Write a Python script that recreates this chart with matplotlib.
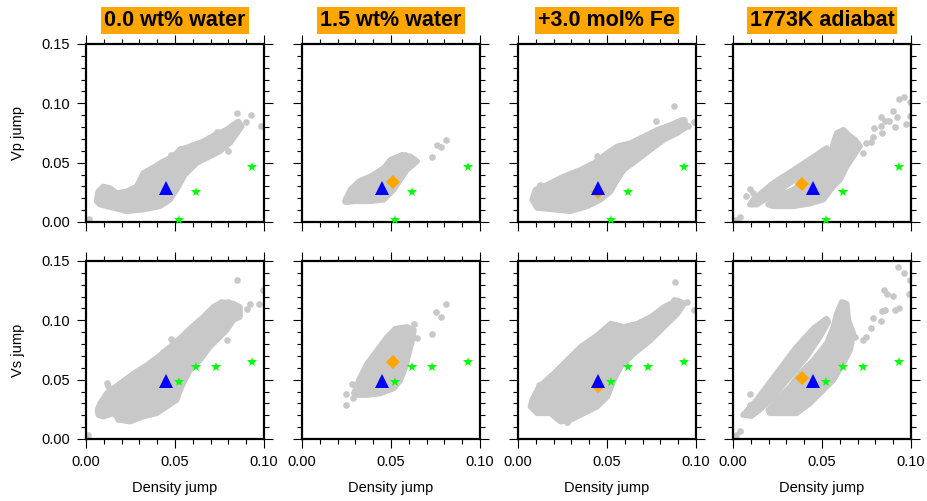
import numpy as np
import matplotlib
matplotlib.use('Agg')
import matplotlib.pyplot as plt
from matplotlib.ticker import MultipleLocator, FormatStrFormatter

plt.rcParams['font.family'] = ['Liberation Sans', 'DejaVu Sans']

# %% data
titles = ['0.0 wt% water', '1.5 wt% water', '+3.0 mol% Fe', '1773K adiabat']

# observed (green stars), density jump vs Vp jump / Vs jump
star_vp_x = [0.052, 0.062, 0.093]
star_vp_y = [0.002, 0.025, 0.046]
star_vs_x = [0.052, 0.062, 0.073, 0.093]
star_vs_y = [0.048, 0.061, 0.061, 0.065]

# reference model (blue triangle), same in every panel
tri_x = 0.045
tri_vp = 0.029
tri_vs = 0.049

# perturbed model (orange diamond), none in first column
dia_x = [None, 0.051, 0.045, 0.0385]
dia_vp = [None, 0.034, 0.025, 0.032]
dia_vs = [None, 0.065, 0.045, 0.051]

# gray clouds: outlines of the dense parts, plus stray points
cloud_vp_0 = [(0.006, 0.0188), (0.0069, 0.0258), (0.0097, 0.030), (0.0135, 0.0287),
              (0.0172, 0.0244), (0.0228, 0.0258), (0.0285, 0.030), (0.0322, 0.0413),
              (0.0388, 0.0469), (0.0434, 0.0511), (0.049, 0.0553), (0.0528, 0.061),
              (0.0584, 0.0638), (0.0659, 0.068), (0.0725, 0.0736), (0.079, 0.0778),
              (0.0828, 0.082), (0.0856, 0.0848), (0.0875, 0.0806), (0.085, 0.075),
              (0.0809, 0.0666), (0.0753, 0.0596), (0.0697, 0.0553), (0.0622, 0.0497),
              (0.0556, 0.0399), (0.0509, 0.0272), (0.0472, 0.0188), (0.0416, 0.0132),
              (0.0322, 0.0104), (0.0228, 0.009), (0.0154, 0.0118), (0.0079, 0.0146),
              (0.006, 0.0174)]
dots_vp_0 = [(0.085, 0.0918), (0.0925, 0.0899), (0.0899, 0.0843), (0.0983, 0.0806),
             (0.0019, 0.0025), (0.0528, 0.0615), (0.0478, 0.0562), (0.0429, 0.0503),
             (0.0734, 0.0756), (0.080, 0.0596)]
cloud_vs_0 = [(0.0064, 0.0244), (0.0079, 0.030), (0.0116, 0.0384), (0.0191, 0.0468),
              (0.0266, 0.0552), (0.0341, 0.0622), (0.0416, 0.0706), (0.0472, 0.0777),
              (0.0537, 0.0861), (0.0594, 0.0945), (0.0659, 0.1029), (0.0715, 0.1113),
              (0.0762, 0.1155), (0.0828, 0.1141), (0.0865, 0.1113), (0.0865, 0.1029),
              (0.0828, 0.1001), (0.079, 0.0917), (0.0753, 0.0861), (0.0697, 0.0777),
              (0.064, 0.0664), (0.0584, 0.058), (0.0537, 0.044), (0.0509, 0.0328),
              (0.0453, 0.0272), (0.0397, 0.0216), (0.0322, 0.0188), (0.0247, 0.0146),
              (0.0191, 0.016), (0.0154, 0.0216), (0.0097, 0.0188), (0.0069, 0.0202)]
dots_vs_0 = [(0.085, 0.1343), (0.0996, 0.1253), (0.0116, 0.0468), (0.0125, 0.045),
             (0.0478, 0.0841), (0.0431, 0.0734), (0.080, 0.1155), (0.0921, 0.1141),
             (0.0906, 0.1094), (0.0974, 0.1141), (0.079, 0.0833), (0.0013, 0.0034),
             (0.0182, 0.0168)]

cloud_vp_1 = [(0.0244, 0.0188), (0.0272, 0.0272), (0.0319, 0.0343), (0.0385, 0.0385),
              (0.046, 0.0455), (0.0497, 0.0525), (0.0563, 0.0567), (0.061, 0.0553),
              (0.0647, 0.0511), (0.0591, 0.0441), (0.0553, 0.0357), (0.0516, 0.0272),
              (0.046, 0.0188), (0.0385, 0.0174), (0.0291, 0.0174), (0.0253, 0.0166)]
dots_vp_1 = [(0.0281, 0.0287), (0.0732, 0.0548), (0.0756, 0.0649), (0.0782, 0.0629),
             (0.081, 0.0691), (0.0578, 0.0567), (0.0244, 0.0174)]
cloud_vs_1 = [(0.0291, 0.0384), (0.0319, 0.0496), (0.0366, 0.0636), (0.0422, 0.0748),
              (0.0478, 0.086), (0.0525, 0.0931), (0.0591, 0.0945), (0.0629, 0.0917),
              (0.062, 0.0833), (0.060, 0.072), (0.0582, 0.0608), (0.0553, 0.0496),
              (0.0516, 0.0426), (0.0441, 0.0384), (0.0366, 0.037), (0.030, 0.037)]
dots_vs_1 = [(0.028, 0.0463), (0.025, 0.0378), (0.0248, 0.0283), (0.0287, 0.0348),
             (0.0629, 0.0967), (0.0647, 0.0855), (0.0728, 0.0886), (0.0754, 0.1071),
             (0.0782, 0.1032), (0.081, 0.1135), (0.0432, 0.0748)]

cloud_vp_2 = [(0.0079, 0.0188), (0.0098, 0.0272), (0.0164, 0.0315), (0.0258, 0.0385),
              (0.0352, 0.0441), (0.0427, 0.0497), (0.0502, 0.0581), (0.0558, 0.0638),
              (0.0633, 0.0666), (0.0709, 0.0722), (0.0784, 0.0778), (0.0859, 0.082),
              (0.0925, 0.0862), (0.0953, 0.0806), (0.0897, 0.075), (0.0821, 0.0694),
              (0.0746, 0.061), (0.0671, 0.0525), (0.0596, 0.0441), (0.0558, 0.0357),
              (0.0521, 0.0258), (0.0464, 0.0188), (0.0389, 0.0132), (0.0295, 0.009),
              (0.0201, 0.0104), (0.0107, 0.0118)]
dots_vp_2 = [(0.0878, 0.0975), (0.0934, 0.0862), (0.0991, 0.0843), (0.0778, 0.0848),
             (0.0953, 0.0812), (0.0126, 0.0315), (0.0445, 0.0553), (0.0596, 0.0646)]
cloud_vs_2 = [(0.0079, 0.0328), (0.0117, 0.044), (0.0201, 0.0552), (0.0276, 0.0664),
              (0.0352, 0.0777), (0.0445, 0.0875), (0.0521, 0.0973), (0.0596, 0.0945),
              (0.0671, 0.0973), (0.0746, 0.1029), (0.0821, 0.1113), (0.0897, 0.1169),
              (0.0934, 0.1141), (0.0897, 0.1057), (0.0821, 0.0945), (0.0746, 0.0833),
              (0.0652, 0.072), (0.0577, 0.0608), (0.0539, 0.0496), (0.0502, 0.0356),
              (0.0445, 0.0272), (0.037, 0.0216), (0.0295, 0.016), (0.0239, 0.0146),
              (0.0182, 0.0216), (0.0107, 0.0216), (0.007, 0.0272)]
dots_vs_2 = [(0.0883, 0.1323), (0.0878, 0.1169), (0.0949, 0.1158), (0.0991, 0.1091),
             (0.0784, 0.1052), (0.0117, 0.0455), (0.0276, 0.0146), (0.0540, 0.0960)]

band_vp_3 = [(0.0094, 0.0146), (0.0113, 0.0188), (0.0226, 0.0329), (0.0357, 0.0455),
             (0.047, 0.0567), (0.0526, 0.0624), (0.0541, 0.0596), (0.0489, 0.0497),
             (0.0414, 0.0413), (0.032, 0.0329), (0.0226, 0.023), (0.0132, 0.0146)]
cloud_vp_3 = [(0.0197, 0.0146), (0.0244, 0.0216), (0.0338, 0.0272), (0.0432, 0.0385),
              (0.0526, 0.0497), (0.0555, 0.0581), (0.0564, 0.0666), (0.0583, 0.075),
              (0.062, 0.0778), (0.0648, 0.0736), (0.0686, 0.0694), (0.0714, 0.0638),
              (0.0677, 0.0553), (0.0639, 0.0469), (0.0602, 0.0357), (0.0564, 0.0301),
              (0.0508, 0.0188), (0.0432, 0.0154), (0.0338, 0.0132), (0.0226, 0.0132)]
dots_vp_3 = [(0.0094, 0.0278), (0.0075, 0.0216), (0.0113, 0.0244), (0.0009, 0.002),
             (0.0038, 0.0042), (0.0746, 0.0666), (0.0784, 0.0713), (0.0793, 0.0789),
             (0.0833, 0.0806), (0.0833, 0.0882), (0.0855, 0.0848), (0.0878, 0.0851),
             (0.0897, 0.0938), (0.0908, 0.0798), (0.0921, 0.0882), (0.093, 0.1039),
             (0.0962, 0.1051), (0.0972, 0.0823), (0.0992, 0.089), (0.0996, 0.1008),
             (0.0835, 0.075), (0.0773, 0.0677), (0.0733, 0.0581)]
band_vs_3 = [(0.0056, 0.0202), (0.0132, 0.0328), (0.0244, 0.0552), (0.0357, 0.0777),
             (0.0451, 0.0931), (0.0526, 0.1015), (0.0536, 0.0987), (0.0489, 0.0861),
             (0.0414, 0.0692), (0.032, 0.0524), (0.0226, 0.0356), (0.015, 0.0244),
             (0.0103, 0.0193)]
cloud_vs_3 = [(0.0197, 0.0244), (0.0263, 0.0356), (0.032, 0.044), (0.0376, 0.0552),
              (0.0451, 0.0664), (0.0526, 0.0805), (0.0564, 0.0945), (0.0583, 0.1057),
              (0.0611, 0.1155), (0.0639, 0.1141), (0.0648, 0.1001), (0.0677, 0.0889),
              (0.0658, 0.0749), (0.062, 0.0636), (0.0564, 0.0496), (0.0508, 0.0412),
              (0.0432, 0.030), (0.0357, 0.0216), (0.0282, 0.0216), (0.0207, 0.0216)]
dots_vs_3 = [(0.0094, 0.0378), (0.0094, 0.0286), (0.0075, 0.0221), (0.0015, 0.0034),
             (0.0038, 0.007), (0.0733, 0.0833), (0.0746, 0.0861), (0.0776, 0.0939),
             (0.0789, 0.1023), (0.0833, 0.0995), (0.0836, 0.1077), (0.0855, 0.1085),
             (0.0865, 0.1225), (0.0897, 0.1203), (0.0908, 0.1088), (0.093, 0.1102),
             (0.0927, 0.145), (0.0962, 0.1402), (0.0996, 0.1337), (0.0987, 0.1225),
             (0.0846, 0.1253), (0.0686, 0.0861)]

clouds_vp = [[cloud_vp_0], [cloud_vp_1], [cloud_vp_2], [band_vp_3, cloud_vp_3]]
clouds_vs = [[cloud_vs_0], [cloud_vs_1], [cloud_vs_2], [band_vs_3, cloud_vs_3]]
dots_vp = [dots_vp_0, dots_vp_1, dots_vp_2, dots_vp_3]
dots_vs = [dots_vs_0, dots_vs_1, dots_vs_2, dots_vs_3]

gray = '#c8c8c8'
W, H = 928, 501
lefts = [86, 302, 518, 733]
tops = [44, 261]
size = 178


def style(ax, xlab, ylab):
    ax.set_xlim(0, 0.10)
    ax.set_ylim(0, 0.15)
    ax.xaxis.set_major_locator(MultipleLocator(0.05))
    ax.xaxis.set_minor_locator(MultipleLocator(0.01))
    ax.yaxis.set_major_locator(MultipleLocator(0.05))
    ax.yaxis.set_minor_locator(MultipleLocator(0.01))
    ax.xaxis.set_major_formatter(FormatStrFormatter('%.2f'))
    ax.yaxis.set_major_formatter(FormatStrFormatter('%.2f'))
    ax.tick_params(which='both', direction='out', top=True, right=True,
                   width=0.8, color='k', labelsize=10.5, pad=5)
    ax.tick_params(which='major', length=6.5)
    ax.tick_params(which='minor', length=3.6)
    ax.tick_params(labelbottom=xlab, labelleft=ylab)
    for s in ['bottom', 'top', 'left', 'right']:
        ax.spines[s].set_linewidth(1.6)


fig = plt.figure(figsize=(W / 100, H / 100), dpi=100)

for row in range(2):
    for col in range(4):
        ax = fig.add_axes([lefts[col] / W, 1 - (tops[row] + size) / H, size / W, size / H])
        clouds = clouds_vp[col] if row == 0 else clouds_vs[col]
        dots = dots_vp[col] if row == 0 else dots_vs[col]
        for poly in clouds:
            px, py = zip(*poly)
            ax.fill(px, py, facecolor=gray, edgecolor=gray, linewidth=4,
                    joinstyle='round', zorder=1)
        dx, dy = zip(*dots)
        ax.plot(dx, dy, 'o', color=gray, ms=4.8, mew=0, zorder=1)

        if row == 0:
            ax.plot(star_vp_x, star_vp_y, '*', color='#00ff00', ms=7.5, mew=0, zorder=3,
                    clip_on=False)
            if dia_x[col] is not None:
                ax.plot(dia_x[col], dia_vp[col], 'D', color='#ffa500', ms=7.6, mew=0, zorder=4)
            ax.plot(tri_x, tri_vp, '^', color='#0000ff', ms=9.5, mew=0, zorder=5)
        else:
            ax.plot(star_vs_x, star_vs_y, '*', color='#00ff00', ms=7.5, mew=0, zorder=3)
            if dia_x[col] is not None:
                ax.plot(dia_x[col], dia_vs[col], 'D', color='#ffa500', ms=7.6, mew=0, zorder=4)
            ax.plot(tri_x, tri_vs, '^', color='#0000ff', ms=9.5, mew=0, zorder=5)

        style(ax, row == 1, col == 0)

        if row == 0:
            ax.text(0.5, 1 + 23.5 / size, titles[col], transform=ax.transAxes,
                    ha='center', va='center', fontsize=15.5, fontweight='bold',
                    bbox=dict(boxstyle='square,pad=0.14', facecolor='#ffa500',
                              edgecolor='none'))
        if row == 1:
            ax.set_xlabel('Density jump', fontsize=10.5)
            ax.xaxis.set_label_coords(0.5, -(488 - 439) / size)
            ax.xaxis.label.set_va('center')
        if col == 0:
            ax.set_ylabel('Vp jump' if row == 0 else 'Vs jump', fontsize=10.5)
            ax.yaxis.set_label_coords(-(86 - 18) / size, 0.5)
            ax.yaxis.label.set_va('center')

plt.savefig('out.png', dpi=100)
